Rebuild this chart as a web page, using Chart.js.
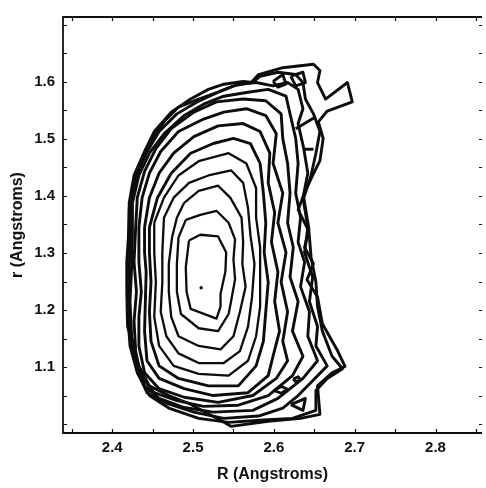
<!DOCTYPE html>
<html>
<head>
<meta charset="utf-8">
<script src="https://cdn.jsdelivr.net/npm/chart.js@4.4.1/dist/chart.umd.min.js"></script>
<style>
  html, body { margin: 0; padding: 0; background: #fff; }
  canvas { display: block; }
</style>
</head>
<body>
<canvas id="chart" width="486" height="488"></canvas>
<script>
// contour lines, [R, r] pairs, innermost first
const contour1 = [[2.495,1.322],[2.509,1.332],[2.531,1.329],[2.541,1.301],[2.540,1.267],[2.534,1.228],[2.534,1.206],[2.529,1.185],[2.497,1.202],[2.492,1.232],[2.491,1.275]];
const contour2 = [[2.491,1.358],[2.509,1.367],[2.529,1.374],[2.544,1.353],[2.552,1.324],[2.550,1.289],[2.552,1.254],[2.547,1.215],[2.544,1.193],[2.531,1.163],[2.507,1.168],[2.485,1.193],[2.480,1.232],[2.480,1.281],[2.482,1.327]];
const contour3 = [[2.489,1.388],[2.507,1.409],[2.531,1.418],[2.546,1.397],[2.560,1.362],[2.562,1.319],[2.561,1.281],[2.565,1.241],[2.558,1.197],[2.550,1.154],[2.534,1.131],[2.507,1.137],[2.482,1.154],[2.473,1.188],[2.470,1.232],[2.470,1.281],[2.474,1.327],[2.480,1.362]];
const contour4 = [[2.464,1.362],[2.476,1.397],[2.495,1.423],[2.519,1.436],[2.547,1.445],[2.562,1.423],[2.568,1.379],[2.571,1.331],[2.576,1.281],[2.573,1.223],[2.568,1.171],[2.558,1.128],[2.538,1.107],[2.507,1.107],[2.482,1.124],[2.467,1.154],[2.460,1.197],[2.462,1.249],[2.462,1.301]];
const contour5 = [[2.452,1.353],[2.464,1.397],[2.482,1.436],[2.507,1.461],[2.544,1.475],[2.566,1.457],[2.578,1.414],[2.578,1.362],[2.583,1.310],[2.583,1.258],[2.583,1.206],[2.578,1.154],[2.568,1.111],[2.544,1.085],[2.507,1.088],[2.476,1.102],[2.458,1.137],[2.452,1.188],[2.454,1.249],[2.452,1.301]];
const contour6 = [[2.446,1.345],[2.456,1.397],[2.473,1.440],[2.497,1.475],[2.525,1.492],[2.550,1.501],[2.571,1.492],[2.583,1.457],[2.587,1.405],[2.590,1.353],[2.588,1.301],[2.593,1.249],[2.590,1.197],[2.587,1.145],[2.578,1.102],[2.556,1.067],[2.519,1.067],[2.482,1.080],[2.458,1.102],[2.448,1.145],[2.446,1.197],[2.448,1.249],[2.446,1.301]];
const contour7 = [[2.440,1.345],[2.446,1.397],[2.458,1.440],[2.476,1.475],[2.501,1.504],[2.531,1.523],[2.562,1.527],[2.583,1.513],[2.595,1.475],[2.593,1.423],[2.601,1.371],[2.597,1.319],[2.605,1.267],[2.601,1.215],[2.607,1.163],[2.599,1.119],[2.593,1.085],[2.568,1.055],[2.525,1.050],[2.489,1.062],[2.458,1.080],[2.443,1.111],[2.440,1.163],[2.441,1.215],[2.442,1.267],[2.440,1.301]];
const contour8 = [[2.433,1.345],[2.437,1.397],[2.446,1.440],[2.460,1.478],[2.482,1.513],[2.513,1.535],[2.538,1.547],[2.566,1.553],[2.590,1.541],[2.603,1.509],[2.599,1.457],[2.611,1.405],[2.605,1.353],[2.615,1.301],[2.609,1.249],[2.617,1.197],[2.611,1.145],[2.617,1.111],[2.603,1.080],[2.574,1.050],[2.531,1.038],[2.489,1.047],[2.458,1.062],[2.440,1.090],[2.433,1.137],[2.433,1.188],[2.436,1.232],[2.433,1.284]];
const contour9 = [[2.429,1.345],[2.431,1.397],[2.440,1.443],[2.454,1.483],[2.473,1.518],[2.501,1.547],[2.529,1.565],[2.562,1.570],[2.590,1.567],[2.609,1.544],[2.611,1.501],[2.617,1.457],[2.620,1.405],[2.617,1.353],[2.624,1.310],[2.620,1.258],[2.630,1.215],[2.623,1.163],[2.636,1.119],[2.623,1.085],[2.593,1.050],[2.556,1.033],[2.513,1.031],[2.480,1.041],[2.452,1.055],[2.435,1.085],[2.429,1.128],[2.427,1.180],[2.430,1.232],[2.427,1.284]];
const contour10 = [[2.425,1.336],[2.425,1.388],[2.433,1.436],[2.446,1.475],[2.464,1.509],[2.489,1.541],[2.513,1.561],[2.538,1.575],[2.568,1.582],[2.593,1.587],[2.615,1.575],[2.620,1.544],[2.627,1.501],[2.630,1.457],[2.627,1.405],[2.633,1.362],[2.630,1.319],[2.638,1.284],[2.633,1.241],[2.644,1.197],[2.642,1.154],[2.654,1.111],[2.636,1.080],[2.605,1.045],[2.574,1.024],[2.525,1.021],[2.489,1.029],[2.458,1.045],[2.440,1.067],[2.430,1.111],[2.424,1.154],[2.422,1.215],[2.424,1.275]];
const contour11 = [[2.422,1.336],[2.424,1.388],[2.430,1.436],[2.442,1.475],[2.458,1.513],[2.480,1.544],[2.505,1.565],[2.531,1.582],[2.556,1.596],[2.578,1.599],[2.599,1.593],[2.617,1.599],[2.630,1.587],[2.636,1.553],[2.630,1.527],[2.637,1.483],[2.642,1.440],[2.636,1.397],[2.642,1.345],[2.638,1.301],[2.648,1.258],[2.644,1.215],[2.654,1.171],[2.652,1.137],[2.666,1.102],[2.648,1.076],[2.630,1.050],[2.611,1.028],[2.581,1.014],[2.538,1.010],[2.501,1.021],[2.464,1.038],[2.443,1.055],[2.431,1.093],[2.425,1.137],[2.420,1.197],[2.421,1.267]];
const contour12 = [[2.421,1.336],[2.421,1.388],[2.427,1.436],[2.440,1.478],[2.452,1.513],[2.473,1.547],[2.497,1.570],[2.519,1.587],[2.538,1.596],[2.562,1.601],[2.574,1.599],[2.583,1.610],[2.605,1.617],[2.627,1.613],[2.636,1.599],[2.639,1.570],[2.649,1.544],[2.657,1.513],[2.652,1.475],[2.646,1.436],[2.637,1.397],[2.643,1.345],[2.646,1.293],[2.652,1.249],[2.654,1.206],[2.660,1.163],[2.672,1.119],[2.685,1.097],[2.666,1.080],[2.652,1.059],[2.652,1.024],[2.623,1.010],[2.587,1.007],[2.544,1.003],[2.507,1.010],[2.470,1.028],[2.446,1.050],[2.431,1.090],[2.422,1.137],[2.419,1.197],[2.419,1.258]];
const contour13 = [[2.420,1.327],[2.421,1.379],[2.427,1.423],[2.437,1.462],[2.448,1.496],[2.464,1.530],[2.482,1.556],[2.507,1.570],[2.531,1.582],[2.550,1.593],[2.572,1.599],[2.581,1.613],[2.611,1.625],[2.649,1.631],[2.657,1.620],[2.654,1.599],[2.664,1.570],[2.691,1.599],[2.697,1.565],[2.666,1.549],[2.655,1.530],[2.661,1.501],[2.657,1.462],[2.648,1.436],[2.639,1.409],[2.630,1.376],[2.643,1.339],[2.638,1.310],[2.649,1.281],[2.641,1.253],[2.654,1.223],[2.660,1.176],[2.679,1.128],[2.688,1.101],[2.672,1.090],[2.654,1.067],[2.657,1.017],[2.633,1.010],[2.593,1.005],[2.547,0.996],[2.531,1.009],[2.495,1.036],[2.470,1.050],[2.446,1.067],[2.433,1.102],[2.426,1.137],[2.419,1.171],[2.418,1.232],[2.418,1.284]];

// small islands and stray pieces
const islandTopA = [[2.599,1.601],[2.611,1.613],[2.615,1.596],[2.605,1.591]];
const islandTopB = [[2.621,1.610],[2.636,1.617],[2.639,1.599],[2.627,1.593]];
const islandLowA = [[2.624,1.079],[2.630,1.083],[2.633,1.078],[2.627,1.074]];
const islandLowB = [[2.600,1.059],[2.609,1.066],[2.617,1.061],[2.609,1.054]];
const islandLowC = [[2.621,1.034],[2.639,1.045],[2.636,1.024]];
const strayDash = [[2.636,1.482],[2.649,1.482]];
const strayDiag = [[2.627,1.518],[2.652,1.539]];
const peak = [[2.510,1.239]];

const xTickLabels = ['2.4', '2.5', '2.6', '2.7', '2.8'];
const yTickLabels = ['1.1', '1.2', '1.3', '1.4', '1.5', '1.6'];

const closedLines = [contour1, contour2, contour3, contour4, contour5, contour6, contour7,
  contour8, contour9, contour10, contour11, contour12, contour13,
  islandTopA, islandTopB, islandLowA, islandLowB, islandLowC];
const openLines = [strayDash, strayDiag];

const toPts = arr => arr.map(([x, y]) => ({ x, y }));

const datasets = [];
closedLines.forEach((c, i) => {
  datasets.push({
    data: toPts(c.concat([c[0]])),
    showLine: true,
    borderColor: '#0d0d0d',
    borderWidth: i < 5 ? 2.3 : 2.9,
    borderJoinStyle: 'round',
    pointRadius: 0,
    fill: false,
  });
});
openLines.forEach(c => {
  datasets.push({ data: toPts(c), showLine: true, borderColor: '#0d0d0d', borderWidth: 2.9, pointRadius: 0 });
});
datasets.push({ data: toPts(peak), showLine: false, pointRadius: 1.7, backgroundColor: '#0d0d0d', borderWidth: 0 });

const labelFrom = list => v => {
  let s = v.toFixed(2);
  if (s.endsWith('0')) s = s.slice(0, -1);
  return list.includes(s) ? s : '';
};

// frame plus inward ticks on all four sides
const frameTicks = {
  id: 'frameTicks',
  afterDraw(chart) {
    const { ctx, chartArea: a, scales: { x, y } } = chart;
    ctx.save();
    ctx.strokeStyle = '#111';
    ctx.lineWidth = 1.8;
    ctx.beginPath();
    ctx.moveTo(a.right, a.top);
    ctx.lineTo(a.left, a.top);
    ctx.lineTo(a.left, a.bottom);
    ctx.lineTo(a.right, a.bottom);
    ctx.stroke();
    ctx.lineWidth = 1.2;
    ctx.beginPath();
    x.ticks.forEach(t => {
      const px = Math.round(x.getPixelForValue(t.value)) + 0.5;
      ctx.moveTo(px, a.bottom); ctx.lineTo(px, a.bottom - 4);
      ctx.moveTo(px, a.top); ctx.lineTo(px, a.top + 4);
    });
    y.ticks.forEach(t => {
      const py = Math.round(y.getPixelForValue(t.value)) + 0.5;
      ctx.moveTo(a.left, py); ctx.lineTo(a.left + 4, py);
      ctx.moveTo(a.right, py); ctx.lineTo(a.right - 3, py);
    });
    ctx.stroke();
    ctx.restore();
  }
};

const font = { family: '"Liberation Sans", Arial, Helvetica, sans-serif', weight: 'bold' };

new Chart(document.getElementById('chart'), {
  type: 'scatter',
  data: { datasets },
  plugins: [frameTicks],
  options: {
    responsive: false,
    animation: false,
    devicePixelRatio: 1,
    layout: { padding: { top: 12, right: 0, left: 0, bottom: 0 } },
    plugins: { legend: { display: false }, tooltip: { enabled: false } },
    scales: {
      x: {
        type: 'linear',
        min: 2.3391,
        max: 2.8575,
        grid: { display: false, drawTicks: false },
        border: { display: false },
        ticks: { stepSize: 0.05, includeBounds: false, autoSkip: false, maxRotation: 0,
          padding: 6, color: '#111', font: { ...font, size: 15 }, callback: labelFrom(xTickLabels) },
        title: { display: true, text: 'R (Angstroms)', color: '#111',
          font: { ...font, size: 16 }, padding: { top: 0, bottom: 4 } },
        afterFit: s => { s.height = 55; },
      },
      y: {
        type: 'linear',
        min: 0.9843,
        max: 1.7139,
        grid: { display: false, drawTicks: false },
        border: { display: false },
        ticks: { stepSize: 0.05, includeBounds: false, autoSkip: false,
          padding: 8, color: '#111', font: { ...font, size: 15 }, callback: labelFrom(yTickLabels) },
        title: { display: true, text: 'r (Angstroms)', color: '#111',
          font: { ...font, size: 16 }, padding: { top: 8, bottom: 0 } },
        afterFit: s => { s.width = 63; },
      },
    },
  },
});
</script>
</body>
</html>
